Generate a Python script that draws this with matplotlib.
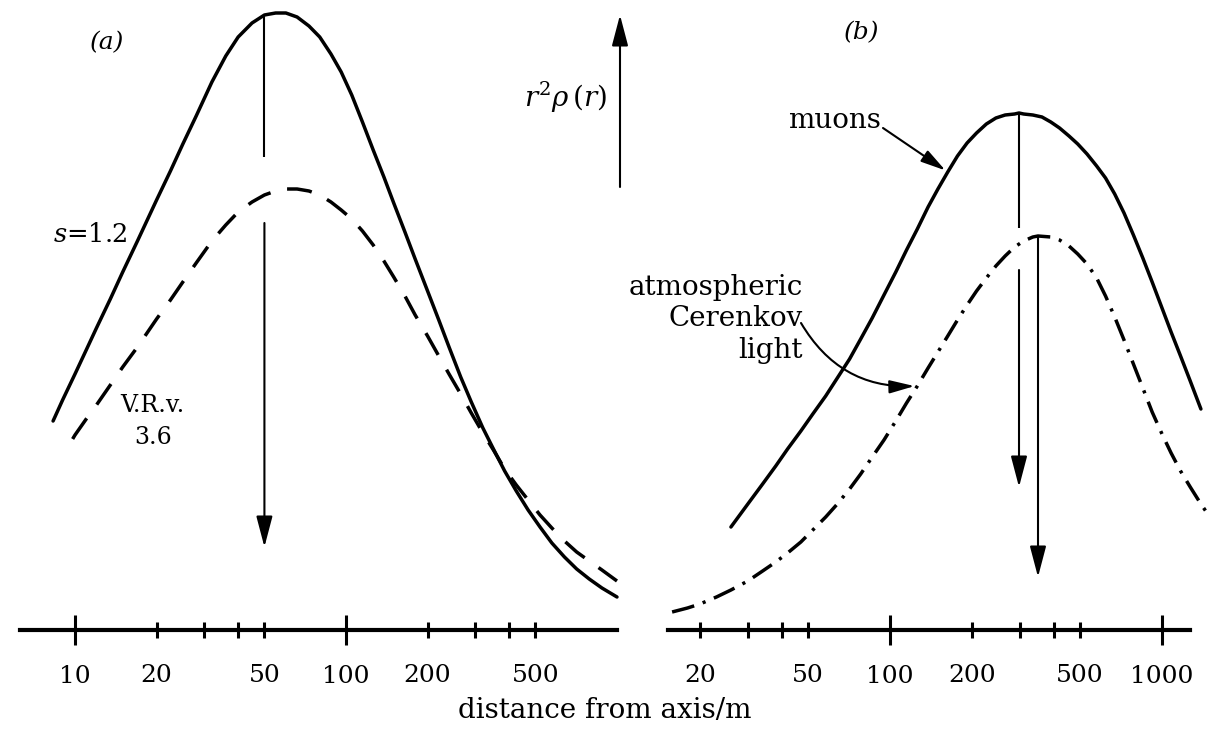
import matplotlib

matplotlib.use("Agg")
import matplotlib.pyplot as plt

W, H = 1220, 733

plt.rcParams["font.family"] = "DejaVu Serif"
plt.rcParams["mathtext.fontset"] = "dejavuserif"

# (a) lateral distribution r^2 rho(r), s = 1.2 (solid) and Volcano Ranch 3.6 (dashed)
A_S12_R = [8.3, 9, 10, 11, 12, 13.5, 15, 17, 20, 22.5, 25, 28, 32, 36, 40, 45, 50, 55, 60, 66,
           73, 80, 88, 96, 105, 115, 126, 138, 150, 165, 180, 200, 220, 240, 265, 290, 320,
           350, 385, 425, 470, 520, 575, 640, 710, 790, 880, 1000]
A_S12_Y = [2.09, 2.30, 2.56, 2.80, 3.02, 3.31, 3.58, 3.89, 4.30, 4.59, 4.86, 5.14, 5.48, 5.74,
           5.93, 6.07, 6.15, 6.17, 6.17, 6.13, 6.04, 5.93, 5.76, 5.58, 5.35, 5.08, 4.80, 4.53,
           4.27, 3.98, 3.71, 3.39, 3.10, 2.83, 2.53, 2.28, 2.02, 1.81, 1.59, 1.39, 1.20, 1.03,
           0.87, 0.73, 0.61, 0.51, 0.42, 0.33]
A_VRV_R = [9.8, 10, 11, 12, 13.5, 15, 17, 20, 22.5, 25, 28, 32, 36, 40, 45, 50, 55, 60, 66, 73,
           80, 88, 96, 105, 115, 126, 138, 150, 165, 180, 200, 220, 240, 265, 290, 320, 350,
           385, 425, 470, 520, 575, 640, 710, 790, 880, 1000]
A_VRV_Y = [1.91, 1.95, 2.11, 2.25, 2.45, 2.63, 2.83, 3.11, 3.30, 3.48, 3.67, 3.89, 4.05, 4.18,
           4.28, 4.35, 4.39, 4.41, 4.41, 4.39, 4.35, 4.28, 4.20, 4.11, 3.99, 3.85, 3.69, 3.53,
           3.34, 3.15, 2.94, 2.74, 2.56, 2.36, 2.17, 1.97, 1.80, 1.61, 1.45, 1.30, 1.15, 1.02,
           0.89, 0.78, 0.69, 0.60, 0.49]

# (b) muons (solid) and atmospheric Cerenkov light (dash-dot)
B_MU_R = [26, 30, 34, 38, 42, 47, 52, 58, 64, 71, 78, 86, 95, 105, 115, 126, 138, 150, 163,
          177, 192, 208, 226, 245, 265, 287, 298, 310, 335, 362, 390, 420, 455, 490, 530, 575,
          620, 670, 725, 785, 850, 920, 1000, 1080, 1170, 1270, 1390]
B_MU_Y = [1.03, 1.26, 1.46, 1.64, 1.81, 1.99, 2.16, 2.34, 2.52, 2.71, 2.91, 3.12, 3.35, 3.58,
          3.80, 4.01, 4.23, 4.41, 4.58, 4.74, 4.87, 4.97, 5.06, 5.12, 5.15, 5.16, 5.17, 5.16,
          5.15, 5.13, 5.08, 5.02, 4.94, 4.86, 4.76, 4.64, 4.52, 4.36, 4.17, 3.95, 3.72, 3.48,
          3.22, 2.98, 2.74, 2.49, 2.21]
B_CK_R = [15.8, 18, 20, 23, 26, 30, 34, 38, 42, 47, 52, 58, 64, 71, 78, 86, 95, 105, 115, 126,
          138, 150, 163, 177, 192, 208, 226, 245, 265, 287, 310, 335, 350, 390, 420, 455, 490,
          530, 575, 620, 670, 725, 785, 850, 920, 1000, 1080, 1170, 1270, 1390, 1500]
B_CK_Y = [0.18, 0.22, 0.26, 0.33, 0.40, 0.49, 0.59, 0.68, 0.77, 0.88, 1.00, 1.13, 1.26, 1.41,
          1.56, 1.73, 1.90, 2.09, 2.27, 2.44, 2.62, 2.78, 2.94, 3.10, 3.25, 3.39, 3.52, 3.64,
          3.74, 3.83, 3.89, 3.93, 3.94, 3.93, 3.90, 3.84, 3.76, 3.66, 3.52, 3.34, 3.13, 2.90,
          2.66, 2.42, 2.18, 1.96, 1.77, 1.59, 1.43, 1.26, 1.13]

# where the median-distance arrows stop (and the breaks in their shafts)
A_ARROW_R = 50
A_ARROW_BREAK = (4.73, 4.07)
A_ARROW_END = 0.83
B_MU_ARROW_BREAK = (4.02, 3.60)
B_MU_ARROW_END = 1.43
B_CK_ARROW_END = 0.53
MU_LABEL_R = 163
CK_LABEL_R = 126

A_MAJOR = [10, 100]
A_MAJOR_LAB = ["10", "100"]
A_MINOR = [20, 30, 40, 50, 200, 300, 400, 500]
A_MINOR_LAB = ["20", "", "", "50", "200", "", "", "500"]
B_MAJOR = [100, 1000]
B_MAJOR_LAB = ["100", "1000"]
B_MINOR = [20, 30, 40, 50, 200, 300, 400, 500]
B_MINOR_LAB = ["20", "", "", "50", "200", "", "", "500"]

Y_LIM = (-1.03, 6.30)
LW = 2.5
DASHED = (0, (7.2, 4.9))
DASHDOT = (0, (6.6, 2.6, 0.9, 2.6))
HEAD = "-|>,head_length=0.95,head_width=0.25"

fig = plt.figure(figsize=(W / 100, H / 100), dpi=100)


def fxy(x, y):
    return x / W, 1 - y / H


def panel(x0, x1, rlim, bounds, major, major_lab, minor, minor_lab):
    ax = fig.add_axes([x0 / W, 0, (x1 - x0) / W, 1])
    ax.set_xscale("log")
    ax.set_xlim(*rlim)
    ax.set_ylim(*Y_LIM)
    ax.patch.set_visible(False)
    for side in ("left", "right", "top"):
        ax.spines[side].set_visible(False)
    ax.yaxis.set_visible(False)
    sp = ax.spines["bottom"]
    sp.set_position(("data", 0))
    sp.set_bounds(*bounds)
    sp.set_linewidth(3)
    ax.set_xticks(major, labels=major_lab)
    ax.set_xticks(minor, labels=minor_lab, minor=True)
    ax.tick_params(which="major", direction="inout", length=21, width=2.2,
                   pad=14.5, labelsize=18)
    ax.tick_params(which="minor", direction="inout", length=11.5, width=2.2,
                   pad=19, labelsize=18)
    return ax


def down_arrow(ax, r, top, end, brk=None):
    kw = dict(color="black", lw=1.5)
    start = top
    if brk is not None:
        ax.plot([r, r], [top, brk[0]], solid_capstyle="butt", **kw)
        start = brk[1]
    ax.annotate("", xy=(r, end), xytext=(r, start),
                arrowprops=dict(arrowstyle=HEAD, mutation_scale=20, shrinkA=0,
                                shrinkB=0, **kw))


ax_a = panel(0, 640, (5.287, 1216), (6.27, 1000), A_MAJOR, A_MAJOR_LAB, A_MINOR, A_MINOR_LAB)
ax_b = panel(640, 1220, (12.04, 1634), (15.3, 1267), B_MAJOR, B_MAJOR_LAB, B_MINOR, B_MINOR_LAB)

ax_a.plot(A_S12_R, A_S12_Y, color="black", lw=LW, solid_capstyle="round",
          solid_joinstyle="round")
ax_a.plot(A_VRV_R, A_VRV_Y, color="black", lw=LW, ls=DASHED)
down_arrow(ax_a, A_ARROW_R, A_S12_Y[A_S12_R.index(A_ARROW_R)], A_ARROW_END, A_ARROW_BREAK)

ax_b.plot(B_MU_R, B_MU_Y, color="black", lw=LW, solid_capstyle="round",
          solid_joinstyle="round")
ax_b.plot(B_CK_R, B_CK_Y, color="black", lw=LW, ls=DASHDOT)
i_mu = B_MU_Y.index(max(B_MU_Y))
i_ck = B_CK_Y.index(max(B_CK_Y))
down_arrow(ax_b, B_MU_R[i_mu], B_MU_Y[i_mu], B_MU_ARROW_END, B_MU_ARROW_BREAK)
down_arrow(ax_b, B_CK_R[i_ck], B_CK_Y[i_ck], B_CK_ARROW_END)

# labels and pointers
fig.text(*fxy(107, 43), "(a)", style="italic", fontsize=18, ha="center", va="center")
fig.text(*fxy(862, 33), "(b)", style="italic", fontsize=18, ha="center", va="center")
fig.text(*fxy(90, 235), "$s$=1.2", fontsize=18.5, ha="center", va="center")
fig.text(*fxy(152, 405), "V.R.v.", fontsize=17, ha="center", va="center")
fig.text(*fxy(153, 437), "3.6", fontsize=17, ha="center", va="center")
fig.text(*fxy(566, 97), r"$r^2\rho\,(r)$", fontsize=20, ha="center", va="center")
fig.text(*fxy(605, 710), "distance from axis/m", fontsize=20, ha="center", va="center")

fig.add_artist(matplotlib.patches.FancyArrowPatch(
    fxy(620, 187), fxy(620, 15), transform=fig.transFigure,
    arrowstyle=HEAD, mutation_scale=20, color="black", lw=1.5, shrinkA=0, shrinkB=0))

fig.text(*fxy(834, 120), "muons", fontsize=20, ha="center", va="center")
i_mu_tip = B_MU_R.index(MU_LABEL_R)
ax_b.annotate("", xy=(B_MU_R[i_mu_tip], B_MU_Y[i_mu_tip]), xytext=fxy(883, 128),
              textcoords="figure fraction",
              arrowprops=dict(arrowstyle=HEAD, mutation_scale=16, color="black", lw=1.5,
                              shrinkA=0, shrinkB=2))

fig.text(*fxy(803, 319), "atmospheric\nCerenkov\nlight", fontsize=20, ha="right",
         va="center", multialignment="right", linespacing=1.22)
i_ck_tip = B_CK_R.index(CK_LABEL_R)
ax_b.annotate("", xy=(B_CK_R[i_ck_tip], B_CK_Y[i_ck_tip]), xytext=fxy(801, 323),
              textcoords="figure fraction",
              arrowprops=dict(arrowstyle=HEAD, mutation_scale=16, color="black", lw=1.5,
                              shrinkA=0, shrinkB=2, connectionstyle="arc3,rad=0.3"))

fig.savefig("out.png", dpi=100, facecolor="white")
